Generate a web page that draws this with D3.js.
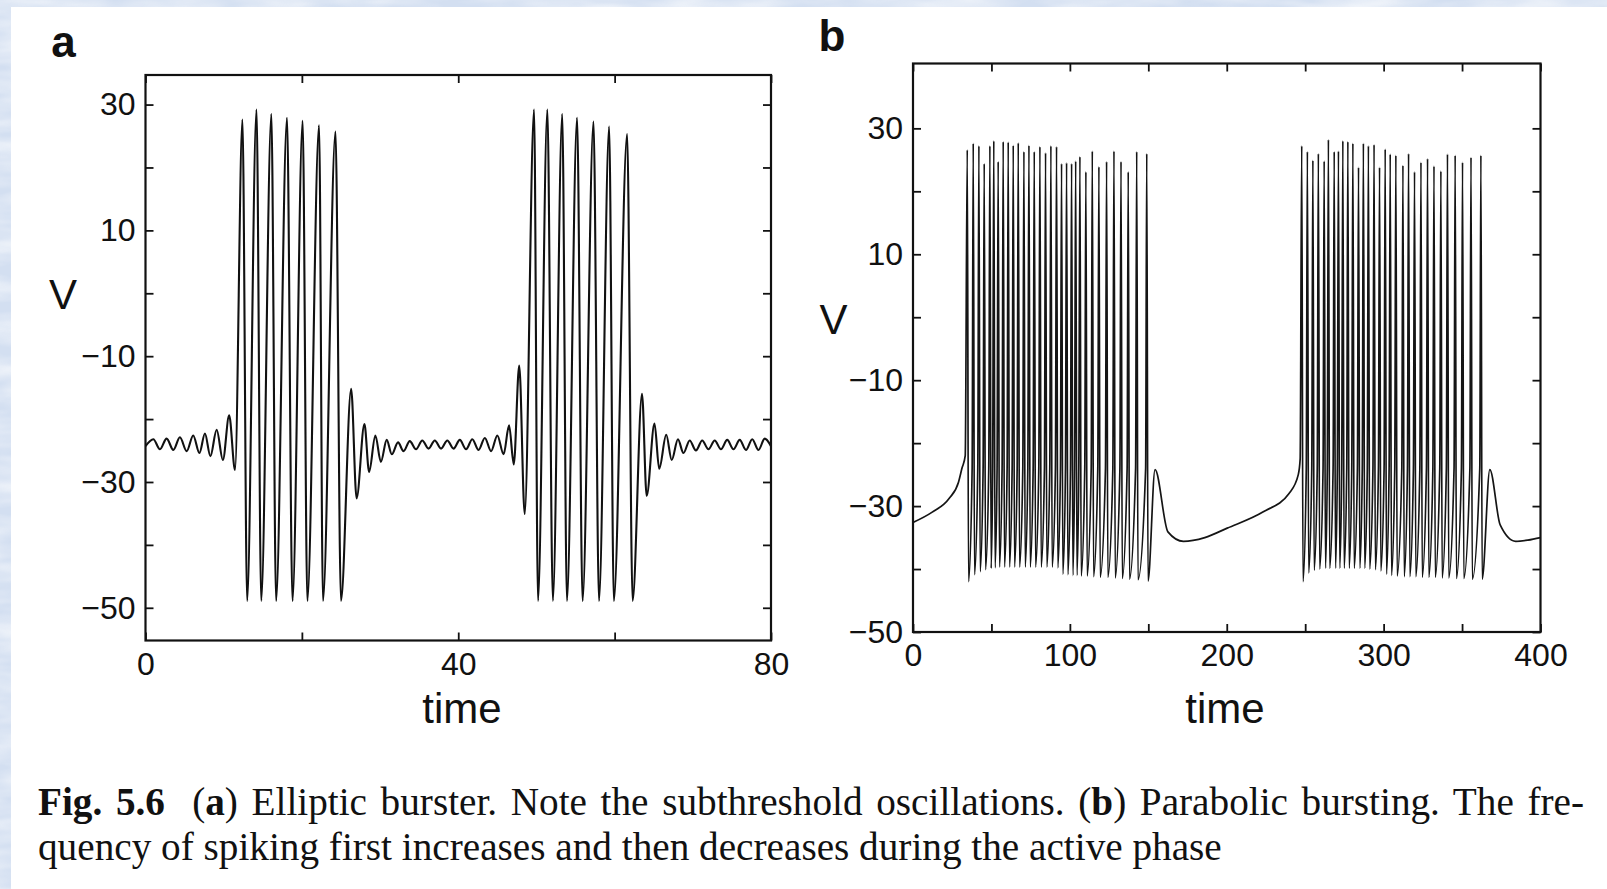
<!DOCTYPE html>
<html>
<head>
<meta charset="utf-8">
<script src="https://cdn.jsdelivr.net/npm/d3@7"></script>
<style>
  body { margin: 0; background: #fff; }
  svg { display: block; }
</style>
</head>
<body>
<div id="chart"></div>
<script>
const width = 1607;
const height = 889;
const sansFont = "'Liberation Sans', Arial, Helvetica, sans-serif";
const serifFont = "'Liberation Serif', 'Times New Roman', serif";

// panel a: elliptic burster, extrema of V [time, V]
const traceA = [
    [0, -24.3], [1.0, -23.2], [1.85, -24.8], [2.7, -23.1], [3.56, -24.9], [4.4, -22.9],
    [5.27, -25.1], [6.1, -22.6], [6.9, -25.4], [7.6, -22.3], [8.3, -25.9], [9.1, -21.7],
    [9.9, -26.5], [10.7, -19.4], [11.45, -28.1],
    [12.4, 27.6], [13.0, -48.9], [14.2, 29.2], [14.8, -48.9], [16.1, 28.5], [16.7, -48.9],
    [18.1, 27.9], [18.8, -48.9], [20.1, 27.4], [20.7, -48.9], [22.2, 26.7], [22.7, -48.9],
    [24.3, 25.7], [25.0, -48.9],
    [26.3, -15.2], [27.0, -32.6], [28.0, -20.8], [28.6, -28.4], [29.4, -22.6], [30.1, -26.8],
    [30.85, -23.3], [31.5, -25.6], [32.3, -23.7], [33.0, -25.1], [33.8, -23.5], [34.6, -24.8],
    [35.4, -23.4], [36.2, -24.7], [37.0, -23.4], [37.8, -24.7], [38.6, -23.4], [39.4, -24.7],
    [40.2, -23.3], [41.0, -24.8], [41.8, -23.2], [42.6, -24.9], [43.4, -23.0], [44.2, -25.1],
    [45.0, -22.6], [45.8, -25.6], [46.5, -21.0], [47.1, -27.2], [47.8, -11.5], [48.5, -35.1],
    [49.7, 29.2], [50.2, -48.9], [51.4, 29.2], [52.1, -48.9], [53.3, 28.5], [53.9, -48.9],
    [55.2, 27.9], [55.9, -48.9], [57.3, 27.3], [58.0, -48.9], [59.3, 26.5], [59.9, -48.9],
    [61.6, 25.3], [62.3, -48.9],
    [63.5, -16.0], [64.1, -32.2], [65.1, -20.7], [65.7, -27.9], [66.6, -22.5], [67.3, -26.5],
    [68.1, -23.2], [68.8, -25.4], [69.6, -23.4], [70.4, -25.0], [71.2, -23.4], [72.0, -24.8],
    [72.8, -23.4], [73.6, -24.8], [74.4, -23.3], [75.2, -24.8], [76.0, -23.3], [76.8, -24.9],
    [77.6, -23.2], [78.4, -24.9], [79.2, -23.1], [80.0, -24.3]
];

// panel b: parabolic bursting, spike peak times / peak V / trough V for each burst
const burst1Times = [34.6, 38.4, 42.0, 45.4, 49.0, 51.5, 54.3, 57.5, 60.7, 63.9, 67.1, 70.7, 73.9, 77.3, 80.9, 84.5,
    87.9, 91.5, 94.7, 97.9, 101.1, 103.7, 106.4, 110.2, 114.3, 118.5, 123.4, 128.1, 132.6, 137.2, 142.6, 149.0];
const burst1Peaks = [26.6, 27.6, 27.2, 24.4, 27.2, 28.0, 24.7, 27.9, 27.8, 27.3, 27.7, 26.3, 27.3, 26.3, 27.1, 26.1,
    27.2, 27.1, 24.4, 24.5, 24.4, 24.8, 25.5, 23.1, 26.4, 23.9, 24.7, 26.4, 24.7, 23.1, 26.3, 26.0];
const burst1Troughs = [-42.0, -40.9, -40.4, -40.1, -39.9, -39.8, -39.7, -39.7, -39.7, -39.7, -39.7, -39.7, -39.7, -39.7, -39.7, -39.7,
    -39.7, -39.8, -40.8, -40.9, -41.0, -41.0, -41.1, -41.1, -41.2, -41.3, -41.3, -41.4, -41.5, -41.6, -41.7, -41.9];

const burst2Times = [247.8, 251.4, 254.9, 258.4, 262.1, 264.8, 268.5, 271.2, 274.0, 277.2, 280.4, 284.0, 287.1, 290.3, 293.9, 297.4,
    301.0, 304.2, 307.8, 312.3, 315.9, 319.7, 323.8, 328.0, 332.1, 336.5, 340.7, 345.6, 350.3, 355.7, 362.0];
const burst2Peaks = [27.2, 26.3, 24.9, 26.0, 24.8, 28.2, 26.3, 26.4, 28.0, 27.9, 27.6, 23.8, 27.6, 27.2, 27.4, 23.8,
    26.7, 25.9, 25.7, 24.1, 26.0, 23.1, 24.6, 25.2, 24.0, 23.2, 25.9, 25.7, 24.6, 25.4, 25.7];
const burst2Troughs = [-42.0, -40.6, -40.2, -40.0, -39.9, -39.9, -39.9, -39.9, -39.9, -39.9, -39.9, -39.9, -39.9, -40.0, -40.1, -40.3,
    -40.8, -41.0, -41.1, -41.2, -41.2, -41.2, -41.3, -41.3, -41.3, -41.4, -41.4, -41.5, -41.5, -41.6, -41.6];

// slow wave outside the bursts
const slowTimes = [0, 12, 23, 29, 31.2, 33.3, 154.3, 162.5, 172.4, 186, 200.3, 223.3, 239.7, 245.6, 246.8, 367.7, 374.3, 384.2, 392, 400];
const slowVolts = [-32.6, -31.0, -28.8, -26.2, -24.0, -22.0, -24.2, -34.1, -35.6, -35.0, -33.5, -30.9, -28.0, -25.0, -22.5, -24.2, -33.0, -35.6, -35.4, -35.0];

// spike waveform template (time units)
const spikeFall = 0.8;
const spikeRise = 0.7;
const thresholdV = -24;

// axis ticks
const aXTicks = [0, 20, 40, 60, 80];
const aXLabels = [0, 40, 80];
const aYTicks = [-50, -40, -30, -20, -10, 0, 10, 20, 30];
const aYLabels = [-50, -30, -10, 10, 30];
const bXTicks = [0, 50, 100, 150, 200, 250, 300, 350, 400];
const bXLabels = [0, 100, 200, 300, 400];
const bYTicks = [-50, -40, -30, -20, -10, 0, 10, 20, 30];
const bYLabels = [-50, -30, -10, 10, 30];

const svg = d3.select("#chart")
    .append("svg")
    .attr("width", width)
    .attr("height", height);

drawBackground();
drawPanelA();
drawPanelB();
drawCaption();

function drawBackground() {
    const defs = svg.append("defs");
    const f = defs.append("filter").attr("id", "marble")
        .attr("x", 0).attr("y", 0).attr("width", "100%").attr("height", "100%");
    f.append("feTurbulence")
        .attr("type", "fractalNoise")
        .attr("baseFrequency", "0.012 0.05")
        .attr("numOctaves", 3)
        .attr("seed", 7);
    f.append("feColorMatrix")
        .attr("type", "matrix")
        .attr("values", "0 0 0 0 1  0 0 0 0 1  0 0 0 0 1  1.6 0 0 0 -0.55");

    svg.append("rect").attr("width", width).attr("height", height).attr("fill", "#d3dff1");
    svg.append("rect").attr("width", width).attr("height", height)
        .attr("filter", "url(#marble)").attr("opacity", 0.8);
    svg.append("rect")
        .attr("x", 11).attr("y", 7)
        .attr("width", width - 11).attr("height", height - 7)
        .attr("fill", "#fff");
}

function drawAxes(g, x, y, o) {
    const [x0, x1] = x.range();
    const [y0, y1] = y.range();
    const fmt = labels => d => labels.includes(d) ? d3.format("d")(d) : "";

    const bottom = g.append("g")
        .attr("transform", `translate(0, ${y0})`)
        .call(d3.axisBottom(x).tickValues(o.xTicks).tickSize(-8).tickPadding(o.xPad).tickFormat(fmt(o.xLabels)));
    const top = g.append("g")
        .attr("transform", `translate(0, ${y1})`)
        .call(d3.axisTop(x).tickValues(o.xTicks).tickSize(-8).tickFormat(""));
    const left = g.append("g")
        .attr("transform", `translate(${x0}, 0)`)
        .call(d3.axisLeft(y).tickValues(o.yTicks).tickSize(-8).tickPadding(10).tickFormat(fmt(o.yLabels)));
    const right = g.append("g")
        .attr("transform", `translate(${x1}, 0)`)
        .call(d3.axisRight(y).tickValues(o.yTicks).tickSize(-8).tickFormat(""));

    [bottom, top, left, right].forEach(a => {
        a.select(".domain").remove();
        a.selectAll("line").attr("stroke", "#111").attr("stroke-width", 1.8);
        a.selectAll("text")
            .style("font-family", sansFont)
            .style("font-size", "32px")
            .attr("fill", "#111");
    });

    g.append("rect")
        .attr("x", x0).attr("y", y1)
        .attr("width", x1 - x0).attr("height", y0 - y1)
        .attr("fill", "none")
        .attr("stroke", "#111")
        .attr("stroke-width", 2.2);
}

function addLabel(x, y, text, size, weight) {
    svg.append("text")
        .attr("x", x).attr("y", y)
        .attr("text-anchor", "middle")
        .style("font-family", sansFont)
        .style("font-size", size + "px")
        .style("font-weight", weight || "normal")
        .attr("fill", "#111")
        .text(text);
}

function drawPanelA() {
    const x = d3.scaleLinear().domain([0, 80]).range([145.5, 771]);
    const y = d3.scaleLinear().domain([-55.2, 34.7]).range([640.5, 75]);
    const g = svg.append("g");

    g.append("clipPath").attr("id", "clipA")
        .append("rect").attr("x", 145.5).attr("y", 75).attr("width", 625.5).attr("height", 565.5);

    const line = d3.line()
        .x(d => x(d[0]))
        .y(d => y(d[1]))
        .curve(d3.curveMonotoneX);

    g.append("path")
        .datum(traceA)
        .attr("clip-path", "url(#clipA)")
        .attr("d", line)
        .attr("fill", "none")
        .attr("stroke", "#111")
        .attr("stroke-width", 2.1)
        .attr("stroke-linejoin", "round");

    drawAxes(g, x, y, { xTicks: aXTicks, xLabels: aXLabels, yTicks: aYTicks, yLabels: aYLabels, xPad: 12 });

    addLabel(63.5, 57, "a", 44, "bold");
    addLabel(63, 309, "V", 42);
    addLabel(462, 723, "time", 42);
}

function spikePoints(times, peaks, troughs) {
    const pts = [];
    times.forEach((t, i) => {
        pts.push([t, peaks[i]]);
        pts.push([t + spikeFall, troughs[i]]);
        if (i < times.length - 1) pts.push([times[i + 1] - spikeRise, thresholdV]);
    });
    return pts;
}

function drawPanelB() {
    const x = d3.scaleLinear().domain([0, 400]).range([913, 1540.5]);
    const y = d3.scaleLinear().domain([-50, 40.3]).range([632, 63.5]);
    const g = svg.append("g");

    g.append("clipPath").attr("id", "clipB")
        .append("rect").attr("x", 913).attr("y", 63.5).attr("width", 627.5).attr("height", 568.5);

    const pts = slowTimes.map((t, i) => [t, slowVolts[i]])
        .concat(spikePoints(burst1Times, burst1Peaks, burst1Troughs))
        .concat(spikePoints(burst2Times, burst2Peaks, burst2Troughs))
        .sort((a, b) => a[0] - b[0]);

    const line = d3.line()
        .x(d => x(d[0]))
        .y(d => y(d[1]))
        .curve(d3.curveMonotoneX);

    g.append("path")
        .datum(pts)
        .attr("clip-path", "url(#clipB)")
        .attr("d", line)
        .attr("fill", "none")
        .attr("stroke", "#151515")
        .attr("stroke-width", 1.7)
        .attr("stroke-linejoin", "round");

    drawAxes(g, x, y, { xTicks: bXTicks, xLabels: bXLabels, yTicks: bYTicks, yLabels: bYLabels, xPad: 11 });

    addLabel(832, 51, "b", 44, "bold");
    addLabel(833.5, 334, "V", 42);
    addLabel(1225, 723, "time", 42);
}

function drawCaption() {
    const left = 38;
    const line1Width = 1546;
    const line2Width = 1184;

    const t2 = svg.append("text")
        .attr("x", left).attr("y", 860)
        .style("font-family", serifFont)
        .style("font-size", "35px")
        .attr("fill", "#111")
        .text("quency of spiking first increases and then decreases during the active phase");
    const fontSize = 35 * line2Width / t2.node().getComputedTextLength();
    t2.style("font-size", fontSize + "px");

    const t1 = svg.append("text")
        .attr("x", left).attr("y", 815)
        .style("font-family", serifFont)
        .style("font-size", fontSize + "px")
        .attr("fill", "#111");
    const parts = [
        ["Fig. 5.6", "bold"], ["  (", "normal"], ["a", "bold"],
        [") Elliptic burster. Note the subthreshold oscillations. (", "normal"], ["b", "bold"],
        [") Parabolic bursting. The fre-", "normal"]
    ];
    t1.style("white-space", "pre");
    parts.forEach(p => t1.append("tspan").style("font-weight", p[1]).text(p[0]));

    const w1 = t1.node().getComputedTextLength();
    const spaces = parts.map(p => p[0]).join("").split(" ").length - 1;
    t1.style("word-spacing", ((line1Width - w1) / spaces) + "px");
}
</script>
</body>
</html>
